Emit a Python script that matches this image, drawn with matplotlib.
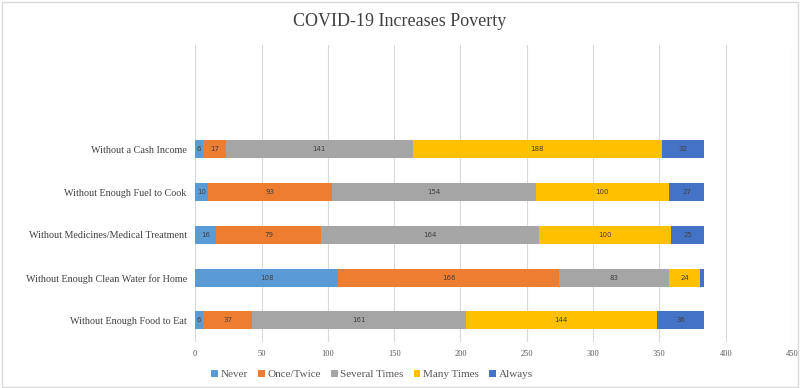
import matplotlib
matplotlib.use("Agg")
import matplotlib.pyplot as plt
from matplotlib.patches import Rectangle

categories = ["Without Enough Food to Eat", "Without Enough Clean Water for Home",
              "Without Medicines/Medical Treatment", "Without Enough Fuel to Cook",
              "Without a Cash Income"]
series_names = ["Never", "Once/Twice", "Several Times", "Many Times", "Always"]
never = [6, 108, 16, 10, 6]
once_twice = [37, 166, 79, 93, 17]
several = [161, 83, 164, 154, 141]
many = [144, 24, 100, 100, 188]
always = [36, 3, 25, 27, 32]
colors = ["#5B9BD5", "#ED7D31", "#A5A5A5", "#FFC000", "#4472C4"]
xticks = [0, 50, 100, 150, 200, 250, 300, 350, 400, 450]

fig = plt.figure(figsize=(8, 3.88), dpi=100)
ax = fig.add_axes([0.244, 0.119, 0.746, 0.765])
fig.patches.append(Rectangle((0.002, 0.003), 0.995, 0.993, transform=fig.transFigure,
                             fill=False, edgecolor="#D9D9D9", linewidth=1))

y = list(range(len(categories)))
left = [0] * len(categories)
for name, vals, c in zip(series_names, [never, once_twice, several, many, always], colors):
    ax.barh(y, vals, left=left, height=0.42, color=c, label=name, edgecolor="none")
    for yi, l, v in zip(y, left, vals):
        if v >= 5:
            ax.text(l + v / 2, yi, str(v), ha="center", va="center", fontsize=5,
                    color="#404040", family="DejaVu Sans")
    left = [a + b for a, b in zip(left, vals)]

ax.set_xlim(0, 450)
ax.set_ylim(-0.5, 6.44)
ax.set_xticks(xticks)
ax.set_xticklabels([str(t) for t in xticks], fontsize=6, color="#595959", family="Liberation Serif")
ax.set_yticks(y)
ax.set_yticklabels(categories, fontsize=7.3, color="#404040", family="Liberation Serif")
ax.tick_params(axis="both", length=0, pad=6)
ax.grid(axis="x", color="#D9D9D9", linewidth=0.8)
ax.set_axisbelow(True)
for s in ax.spines.values():
    s.set_visible(False)

fig.text(0.5, 0.945, "COVID-19 Increases Poverty", ha="center", va="center",
         fontsize=13, color="#404040", family="Liberation Serif")

handles, labels = ax.get_legend_handles_labels()
fig.legend(handles, labels, loc="center", bbox_to_anchor=(0.465, 0.035), ncol=5,
           frameon=False, prop={"family": "Liberation Serif", "size": 8},
           handlelength=0.6, handleheight=0.6, handletextpad=0.25, columnspacing=0.9,
           labelcolor="#595959")

fig.savefig("out.png", dpi=100)
